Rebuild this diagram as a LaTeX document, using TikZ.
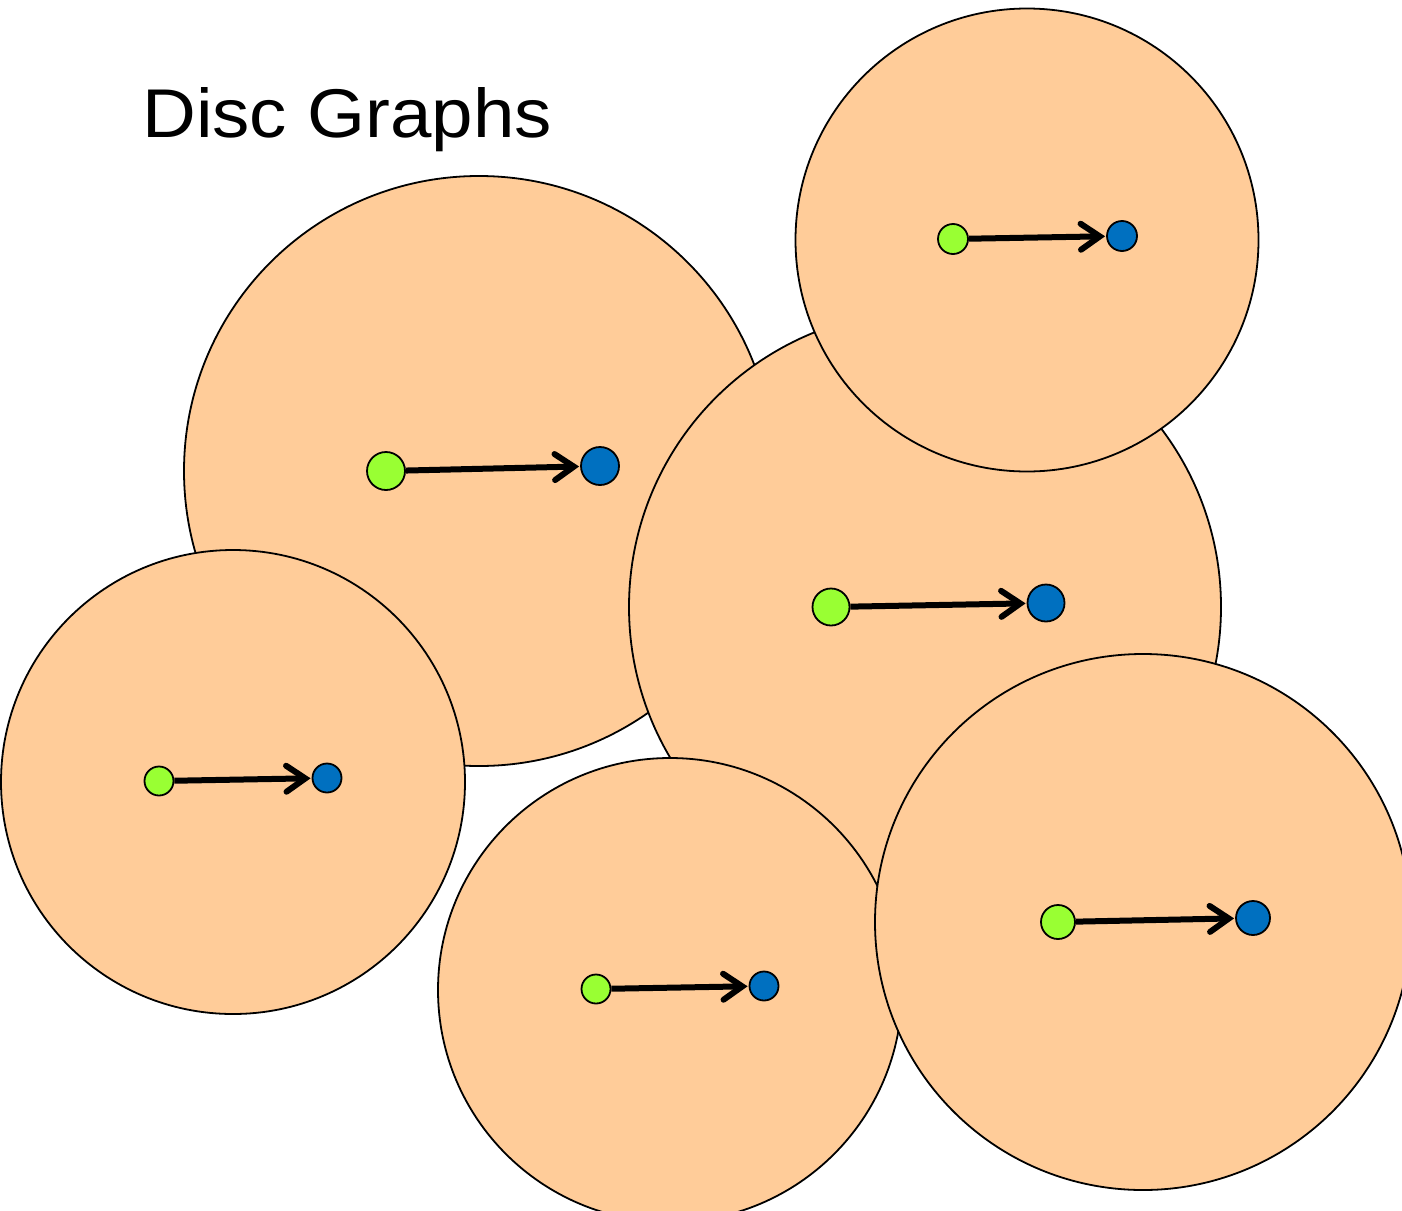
\documentclass[tikz,border=0pt]{standalone}
\usepackage{fontspec}
\setmainfont{Liberation Sans}
\usetikzlibrary{arrows.meta}
\definecolor{discfill}{HTML}{FFCC99}
\definecolor{srcgreen}{HTML}{99FF33}
\definecolor{dstblue}{HTML}{0070C0}
\tikzset{
  disc/.style={draw=black, line width=1.8pt, fill=discfill},
  srcdot/.style={circle, draw=black, line width=1.8pt, fill=srcgreen, inner sep=0pt, minimum size=#1},
  dstdot/.style={circle, draw=black, line width=1.8pt, fill=dstblue, inner sep=0pt, minimum size=#1},
  link/.style={line width=6pt, -{Straight Barb[length=19pt, width=26pt, line cap=round]}, shorten >=1pt}
}
\begin{document}
\begin{tikzpicture}[x=1pt, y=-1pt]
  \useasboundingbox (0,0) rectangle (1402,1210);
  \begin{scope}
    \clip (0,0) rectangle (1402,1210);
    % discs, back to front
    \path[disc] (479,471) circle[radius=295];
    \path[disc] (925,607) circle[radius=296];
    \path[disc] (1027,240) circle[radius=231.5];
    \path[disc] (233,782) circle[radius=232];
    \path[disc] (670,990) circle[radius=232];
    \path[disc] (1143,922) circle[radius=268];
  \end{scope}

  % title
  \node[anchor=base west, inner sep=0pt, xscale=1.08, font=\fontsize{69}{80}\selectfont] (title) at (142,137) {Disc Graphs};

  % node pairs and their arcs
  \node[srcdot=38pt] (a1) at (386,471) {};
  \node[dstdot=38pt] (b1) at (600,466) {};
  \node[srcdot=30pt] (a2) at (953,239) {};
  \node[dstdot=30pt] (b2) at (1122,236) {};
  \node[srcdot=37pt] (a3) at (831,607) {};
  \node[dstdot=37pt] (b3) at (1046,603) {};
  \node[srcdot=29pt] (a4) at (159,781) {};
  \node[dstdot=29pt] (b4) at (327,778) {};
  \node[srcdot=29pt] (a5) at (596,989) {};
  \node[dstdot=29pt] (b5) at (764,986) {};
  \node[srcdot=34pt] (a6) at (1058,922) {};
  \node[dstdot=34pt] (b6) at (1253,918) {};

  \foreach \i in {1,...,6} {
    \draw[link] (a\i) -- (b\i);
  }
\end{tikzpicture}
\end{document}
